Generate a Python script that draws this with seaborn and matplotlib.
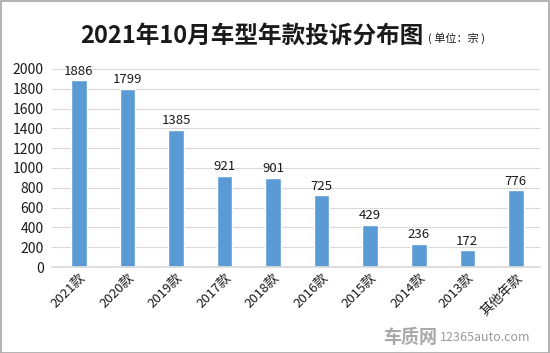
import matplotlib
matplotlib.use('Agg')
import matplotlib.pyplot as plt
import pandas as pd
import seaborn as sns
from matplotlib.patches import Rectangle

categories = ['2021款', '2020款', '2019款', '2017款', '2018款', '2016款', '2015款', '2014款', '2013款', '其他年款']
counts = [1886, 1799, 1385, 921, 901, 725, 429, 236, 172, 776]
yticks = [0, 200, 400, 600, 800, 1000, 1200, 1400, 1600, 1800, 2000]

sns.set_theme(style='white')
plt.rcParams['font.family'] = ['Noto Sans CJK SC', 'DejaVu Sans']
plt.rcParams['axes.unicode_minus'] = False

df = pd.DataFrame({'year': categories, 'count': counts})

fig = plt.figure(figsize=(5.5, 3.53), dpi=100)
ax = fig.add_axes([0.095, 0.2436, 0.887, 0.561])
sns.barplot(data=df, x='year', y='count', color='#5B9BD5', width=0.32, saturation=1, ax=ax)

ax.set_ylim(0, 2000)
ax.set_xlim(-0.55, 9.5)
ax.set_yticks(yticks)
ax.yaxis.grid(True, color='#D9D9D9', linewidth=0.8)
ax.set_axisbelow(True)
ax.set_xlabel('')
ax.set_ylabel('')
for s in ['top', 'right', 'left']:
    ax.spines[s].set_visible(False)
ax.spines['bottom'].set_color('#D9D9D9')
ax.tick_params(axis='y', labelsize=10, length=0, pad=6, colors='#1a1a1a')
ax.tick_params(axis='x', labelsize=9.5, length=0, pad=3, colors='#1a1a1a')
plt.setp(ax.get_xticklabels(), rotation=45, ha='right', rotation_mode='anchor')

for i, v in enumerate(counts):
    ax.text(i, v + 25, str(v), ha='center', va='bottom', fontsize=9.5, color='#1a1a1a')

# title
fig.text(0.145, 0.9, '2021年10月车型年款投诉分布图', fontsize=17, fontweight='bold',
         ha='left', va='center', color='#1a1a1a')
fig.text(0.778, 0.893, '( 单位：宗 )', fontsize=8, ha='left', va='center', color='#1a1a1a')

# watermark
fig.text(0.795, 0.045, '车质网', fontsize=13, fontweight='bold', color='#A8A8A8', ha='right', va='center')
fig.text(0.80, 0.045, '12365auto.com', fontsize=9, color='#9A9A9A', ha='left', va='center')

fig.patches.append(Rectangle((0.001, 0.001), 0.997, 0.996, transform=fig.transFigure,
                             fill=False, edgecolor='#A6A6A6', linewidth=1.2))

fig.savefig('out.png', dpi=100)
